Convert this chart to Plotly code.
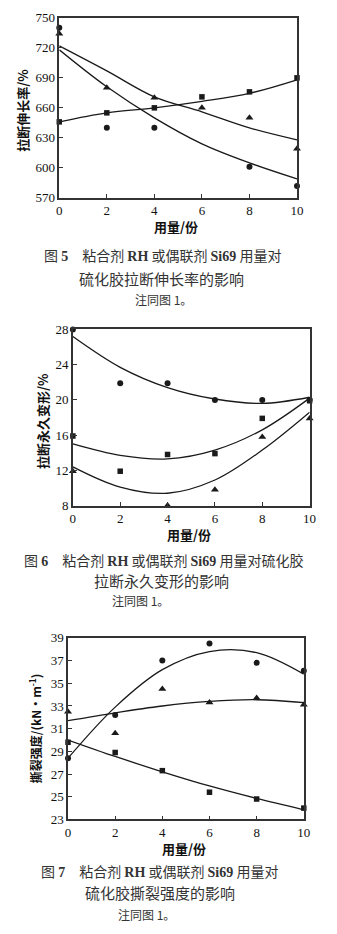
import plotly.graph_objects as go

W, H = 337, 934

dose = [0, 2, 4, 6, 8, 10]
dose_ticks = [0, 2, 4, 6, 8, 10]

# ---- Figure 5: elongation at break (%) ----
f5_circle = [740, 640, 640, None, 601, 582]
f5_triangle = [734, 680, 670, 660, 650, 619]
f5_square = [646, 655, 660, 671, 676, 690]
f5_curve_upper = [722, 697, 671, 656, 640, 628]
f5_curve_lower = [718, 681, 650, 624, 605, 589]
f5_curve_rise = [646, 655, 660, 666.5, 674.5, 688]
f5_yticks = [570, 600, 630, 660, 690, 720, 750]

# ---- Figure 6: permanent set at break (%) ----
f6_circle = [28, 21.9, 21.9, 20, 20, 20]
f6_square = [15.9, 11.9, 13.8, 13.9, 17.9, 19.9]
f6_triangle = [11.9, None, 8, 9.8, 15.8, 17.9]
f6_curve_circle = [27.2, 23.7, 21.4, 20.1, 19.6, 20.3]
f6_curve_square = [15.0, 13.7, 13.3, 14.3, 16.6, 20.2]
f6_curve_triangle = [12.4, 10.1, 9.4, 10.9, 14.3, 18.6]
f6_yticks = [8, 12, 16, 20, 24, 28]

# ---- Figure 7: tear strength (kN/m) ----
f7_circle = [28.4, 32.2, 37.0, 38.5, 36.8, 36.1]
f7_triangle = [32.5, 30.6, 34.5, 33.3, 33.7, 33.1]
f7_square = [29.8, 28.9, 27.3, 25.4, 24.8, 24.0]
f7_curve_circle = [28.4, 32.9, 36.2, 37.8, 37.7, 35.8]
f7_curve_triangle = [31.7, 32.4, 33.0, 33.4, 33.55, 33.3]
f7_curve_square = [30.0, 28.55, 27.2, 25.95, 24.85, 23.85]
f7_yticks = [23, 25, 27, 29, 31, 33, 35, 37, 39]

panels = [
    dict(box=(58, 303, 11, 194), yr=[570, 750], yt=f5_yticks,
         marks=[("circle", f5_circle), ("triangle-up", f5_triangle), ("square", f5_square)],
         curves=[f5_curve_upper, f5_curve_lower, f5_curve_rise]),
    dict(box=(72, 316, 327.7, 506.7), yr=[8, 28], yt=f6_yticks,
         marks=[("circle", f6_circle), ("square", f6_square), ("triangle-up", f6_triangle)],
         curves=[f6_curve_circle, f6_curve_square, f6_curve_triangle]),
    dict(box=(67, 310, 641.2, 825.7), yr=[23, 39], yt=f7_yticks,
         marks=[("circle", f7_circle), ("triangle-up", f7_triangle), ("square", f7_square)],
         curves=[f7_curve_circle, f7_curve_triangle, f7_curve_square]),
]

fig = go.Figure()
layout = dict(width=W, height=H, margin=dict(l=0, r=0, t=0, b=0),
              paper_bgcolor="white", plot_bgcolor="white", showlegend=False)

ink = "#1a1a1a"
for i, p in enumerate(panels, start=1):
    xa = "x" if i == 1 else f"x{i}"
    ya = "y" if i == 1 else f"y{i}"
    x0, x1, y0, y1 = p["box"]
    for curve in p["curves"]:
        fig.add_trace(go.Scatter(x=dose, y=curve, mode="lines",
                                 line=dict(color=ink, width=1.3, shape="spline", smoothing=1.0),
                                 xaxis=xa, yaxis=ya, cliponaxis=False, hoverinfo="skip"))
    for sym, vals in p["marks"]:
        size = 7 if sym == "triangle-up" else (5.5 if sym == "square" else 6)
        fig.add_trace(go.Scatter(x=dose, y=vals, mode="markers",
                                 marker=dict(symbol=sym, size=size, color=ink, line=dict(width=0)),
                                 xaxis=xa, yaxis=ya, cliponaxis=False))
    common = dict(showgrid=False, zeroline=False, showline=True, mirror=True,
                  linecolor="#333", linewidth=1.5, ticks="inside", ticklen=4,
                  tickwidth=1, tickcolor="#333",
                  tickfont=dict(family="Liberation Serif", size=13, color="#111"))
    layout["xaxis" if i == 1 else f"xaxis{i}"] = dict(
        domain=[x0 / W, x1 / W], range=[0, 10], tickvals=dose_ticks,
        anchor=ya, **common)
    layout["yaxis" if i == 1 else f"yaxis{i}"] = dict(
        domain=[1 - y1 / H, 1 - y0 / H], range=p["yr"], tickvals=p["yt"],
        anchor=xa, **common)

fig.update_layout(**layout)

cjk = "Noto Sans CJK SC"
serif_b = "<span style='font-family:Liberation Serif;font-weight:bold'>%s</span>"


def ann(text, px, py, size=13, angle=0, color="#111", family=cjk):
    fig.add_annotation(text=text, x=px / W, y=1 - py / H, xref="paper", yref="paper",
                       showarrow=False, xanchor="center", yanchor="middle",
                       textangle=angle, font=dict(family=family, size=size, color=color))


# axis titles
ann("<b>拉断伸长率/%</b>", 20, 105, size=13, angle=-90)
ann("<b>用量/份</b>", 178, 223, size=13)
ann("<b>拉断永久变形/%</b>", 40, 421, size=13, angle=-90)
ann("<b>用量/份</b>", 192, 536, size=13)
ann("<b>撕裂强度/(kN·m<sup>-1</sup>)</b>", 33, 733, size=12, angle=-90)
ann("<b>用量/份</b>", 187, 855, size=13)

# captions
ann("图 " + serif_b % "5" + "　粘合剂 " + serif_b % "RH" + " 或偶联剂 " + serif_b % "Si69" + " 用量对",
    164, 252, size=14, color="#333")
ann("硫化胶拉断伸长率的影响", 163, 276, size=15, color="#333")
ann("注同图 1。", 165, 297, size=12, color="#333")

ann("图 " + serif_b % "6" + "　粘合剂 " + serif_b % "RH" + " 或偶联剂 " + serif_b % "Si69" + " 用量对硫化胶",
    165, 562, size=14, color="#333")
ann("拉断永久变形的影响", 163, 583, size=15, color="#333")
ann("注同图 1。", 142, 603, size=12, color="#333")

ann("图 " + serif_b % "7" + "　粘合剂 " + serif_b % "RH" + " 或偶联剂 " + serif_b % "Si69" + " 用量对",
    161, 878, size=14, color="#333")
ann("硫化胶撕裂强度的影响", 162, 900, size=15, color="#333")
ann("注同图 1。", 148, 922, size=12, color="#333")

fig.write_html("out.html")
